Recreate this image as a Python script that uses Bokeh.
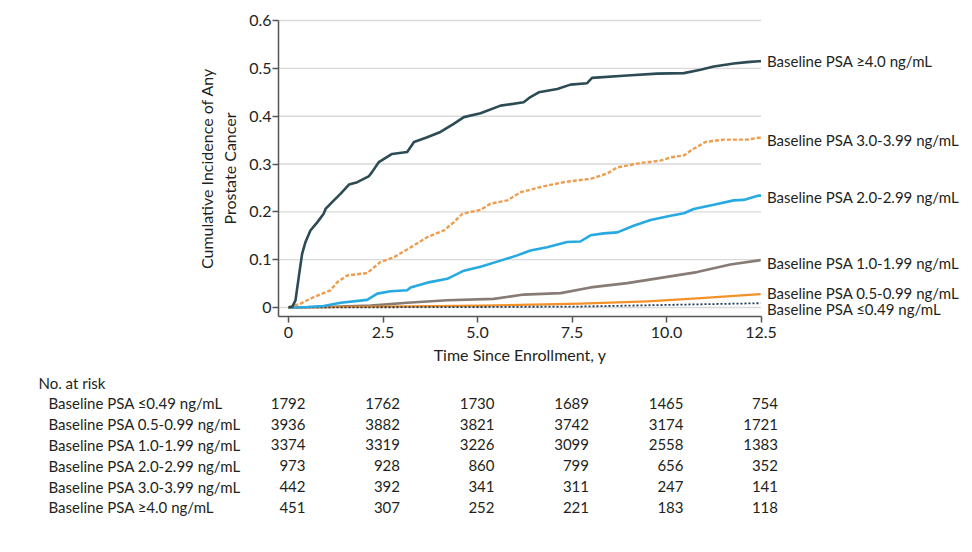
from bokeh.plotting import figure
from bokeh.models import Range1d, FixedTicker, ColumnDataSource
from bokeh.embed import file_html
from bokeh.resources import INLINE
from bokeh.core.properties import value

FONT = "Lato"
FS = "15px"        # labels and table
FS_AX = "16px"     # axis tick labels and titles
TXT = "#231f20"

# ---------------- data ----------------
series_names = [
    "Baseline PSA \u22654.0 ng/mL",
    "Baseline PSA 3.0-3.99 ng/mL",
    "Baseline PSA 2.0-2.99 ng/mL",
    "Baseline PSA 1.0-1.99 ng/mL",
    "Baseline PSA 0.5-0.99 ng/mL",
    "Baseline PSA \u22640.49 ng/mL",
]

t_ge40 = [0, 0.1, 0.185, 0.27, 0.36, 0.45, 0.58, 0.76, 0.93, 0.98, 1.2, 1.38, 1.6, 1.82,
          2.12, 2.21, 2.39, 2.74, 3.14, 3.32, 3.67, 4.02, 4.37, 4.64, 5.08, 5.61, 6.22,
          6.40, 6.62, 7.11, 7.46, 7.9, 8.03, 8.96, 9.75, 10.46, 10.9, 11.25, 11.78,
          12.13, 12.44, 12.5]
ci_ge40 = [0, 0.002, 0.015, 0.063, 0.112, 0.137, 0.161, 0.178, 0.196, 0.206, 0.224,
           0.238, 0.257, 0.262, 0.274, 0.283, 0.304, 0.321, 0.325, 0.346, 0.356, 0.367,
           0.384, 0.398, 0.406, 0.422, 0.429, 0.440, 0.450, 0.457, 0.466, 0.469, 0.480,
           0.485, 0.489, 0.490, 0.497, 0.504, 0.510, 0.513, 0.515, 0.515]

t_30 = [0, 0.32, 0.67, 1.11, 1.29, 1.55, 2.08, 2.43, 2.79, 3.32, 3.67, 4.11, 4.37, 4.6,
        5.08, 5.34, 5.79, 6.14, 6.67, 7.28, 7.99, 8.43, 8.70, 9.31, 9.84, 10.11, 10.46,
        10.72, 11.03, 11.52, 12.13, 12.44, 12.5]
ci_30 = [0, 0.008, 0.022, 0.036, 0.053, 0.067, 0.072, 0.095, 0.105, 0.130, 0.147, 0.161,
         0.178, 0.196, 0.204, 0.217, 0.224, 0.241, 0.252, 0.262, 0.269, 0.280, 0.293,
         0.302, 0.307, 0.314, 0.318, 0.332, 0.346, 0.351, 0.351, 0.355, 0.355]

t_20 = [0, 0.5, 0.93, 1.38, 2.08, 2.35, 2.70, 3.14, 3.23, 3.67, 4.2, 4.64, 5.08, 5.61,
        6.05, 6.40, 6.84, 7.37, 7.72, 7.99, 8.34, 8.70, 9.13, 9.58, 10.11, 10.46, 10.72,
        11.25, 11.78, 12.04, 12.44, 12.5]
ci_20 = [0, 0.001, 0.003, 0.010, 0.016, 0.029, 0.034, 0.036, 0.042, 0.052, 0.060, 0.077,
         0.085, 0.098, 0.109, 0.119, 0.126, 0.137, 0.138, 0.151, 0.155, 0.157, 0.171,
         0.183, 0.192, 0.197, 0.206, 0.215, 0.224, 0.225, 0.234, 0.234]

t_10 = [0, 1.0, 2.17, 3.14, 4.2, 5.43, 6.22, 7.2, 7.99, 8.96, 9.93, 10.81, 11.69, 12.49]
ci_10 = [0, 0.001, 0.004, 0.010, 0.015, 0.018, 0.027, 0.030, 0.042, 0.051, 0.063, 0.074,
         0.090, 0.099]

t_05 = [0, 2.5, 5.08, 7.72, 9.49, 10.81, 12.49]
ci_05 = [0, 0.002, 0.004, 0.008, 0.013, 0.019, 0.028]

t_00 = [0, 5.0, 7.7, 10.4, 12.49]
ci_00 = [0, 0.001, 0.002, 0.006, 0.009]

series_t = [t_ge40, t_30, t_20, t_10, t_05, t_00]
series_ci = [ci_ge40, ci_30, ci_20, ci_10, ci_05, ci_00]
label_y = [0.516, 0.351, 0.232, 0.094, 0.031, -0.003]

x_ticks = [0, 2.5, 5, 7.5, 10, 12.5]
x_tick_labels = ["0", "2.5", "5.0", "7.5", "10.0", "12.5"]
y_ticks = [0, 0.1, 0.2, 0.3, 0.4, 0.5, 0.6]
y_tick_labels = ["0", "0.1", "0.2", "0.3", "0.4", "0.5", "0.6"]

risk_title = "No. at risk"
risk_rows = [
    "Baseline PSA \u22640.49 ng/mL",
    "Baseline PSA 0.5-0.99 ng/mL",
    "Baseline PSA 1.0-1.99 ng/mL",
    "Baseline PSA 2.0-2.99 ng/mL",
    "Baseline PSA 3.0-3.99 ng/mL",
    "Baseline PSA \u22654.0 ng/mL",
]
risk_le049 = [1792, 1762, 1730, 1689, 1465, 754]
risk_05 = [3936, 3882, 3821, 3742, 3174, 1721]
risk_10 = [3374, 3319, 3226, 3099, 2558, 1383]
risk_20 = [973, 928, 860, 799, 656, 352]
risk_30 = [442, 392, 341, 311, 247, 141]
risk_ge40 = [451, 307, 252, 221, 183, 118]
risk_table = [risk_le049, risk_05, risk_10, risk_20, risk_30, risk_ge40]

# ---------------- styles / layout ----------------
colors = ["#2c4b55", "#ee9d4f", "#27a9e1", "#877c75", "#f4922a", "#1d3c5a"]
dashes = ["solid", "4 2", "solid", "solid", "solid", "2 2"]
widths = [2.6, 2.4, 2.6, 2.6, 2.2, 1.8]

W, H = 964, 544
PAGE = 0                             # observed page offset of the canvas
ZERO_PX, ZERO_PY = 288.0, 307.0      # page position of (0, 0)
PPU_X, PPU_Y = 37.8, 478.3           # pixels per data unit
AXIS_PX, AXIS_PY = 278.0, 316.0      # page position of the axis lines
X_END, Y_END = 12.5, 0.6

def dx(px):
    return (px - ZERO_PX) / PPU_X

def dy(py):
    return (ZERO_PY - py) / PPU_Y

X0, Y0 = dx(AXIS_PX), dy(AXIS_PY)

p = figure(width=W, height=H,
           x_range=Range1d(dx(PAGE), dx(PAGE + W)),
           y_range=Range1d(dy(PAGE + H), dy(PAGE)),
           output_backend="svg", toolbar_location=None, min_border=0)
p.outline_line_color = None
p.grid.visible = False

for ax in (p.xaxis[0], p.yaxis[0]):
    ax.axis_line_color = "#555555"
    ax.axis_line_width = 1.5
    ax.major_tick_line_color = "#555555"
    ax.major_tick_line_width = 1.5
    ax.major_tick_out = 6
    ax.major_tick_in = 0
    ax.minor_tick_line_color = None
    ax.major_label_text_font = FONT
    ax.major_label_text_font_size = FS_AX
    ax.major_label_text_color = TXT
    ax.axis_label_text_font = FONT
    ax.axis_label_text_font_size = FS_AX
    ax.axis_label_text_font_style = "normal"
    ax.axis_label_text_color = TXT

p.xaxis.fixed_location = Y0
p.xaxis.bounds = (X0, X_END)
p.xaxis.ticker = FixedTicker(ticks=x_ticks)
p.xaxis.major_label_overrides = dict(zip(x_ticks, x_tick_labels))
p.xaxis.axis_label = "Time Since Enrollment, y"
p.xaxis.major_label_standoff = 4
p.xaxis.axis_label_standoff = 4

p.yaxis.fixed_location = X0
p.yaxis.bounds = (Y0, Y_END)
p.yaxis.ticker = FixedTicker(ticks=y_ticks)
p.yaxis.major_label_overrides = dict(zip(y_ticks, y_tick_labels))
p.yaxis.axis_label = "Cumulative Incidence of Any\nProstate Cancer"
p.yaxis.major_label_standoff = 1
p.yaxis.axis_label_standoff = 7

# horizontal grid lines, limited to the plotting area
p.segment(x0=[X0] * len(y_ticks), x1=[X_END] * len(y_ticks), y0=y_ticks, y1=y_ticks,
          line_color="#d9d9d9", line_width=1.4)

draw_order = [3, 4, 5, 2, 1, 0]
for i in draw_order:
    p.line(series_t[i], series_ci[i], line_color=colors[i], line_width=widths[i],
           line_dash=dashes[i], line_join="round")

p.text(x=[X_END] * len(series_names), y=label_y, text=series_names, x_offset=6,
       text_baseline="middle", text_align="left", text_font=value(FONT),
       text_font_size=value(FS), text_color=TXT)

# ---------------- at-risk table ----------------
ROW = 20.8
TITLE_PY = 382.0
p.text(x=[dx(38)], y=[dy(TITLE_PY)], text=[risk_title], text_baseline="middle",
       text_align="left", text_font=value(FONT), text_font_size=value(FS),
       text_color=TXT)
row_y = [dy(TITLE_PY + ROW * (i + 1)) for i in range(len(risk_rows))]
p.text(x=[dx(48)] * len(risk_rows), y=row_y, text=risk_rows,
       text_baseline="middle", text_align="left", text_font=value(FONT),
       text_font_size=value(FS), text_color=TXT)

xs, ys, txt = [], [], []
for i, row in enumerate(risk_table):
    for j, n in enumerate(row):
        xs.append(x_ticks[j])
        ys.append(row_y[i])
        txt.append(str(n))
src = ColumnDataSource(dict(x=xs, y=ys, text=txt))
p.text(x="x", y="y", text="text", source=src, x_offset=17, text_baseline="middle",
       text_align="right", text_font=value(FONT), text_font_size=value(FS),
       text_color=TXT)

open("out.html", "w").write(file_html(p, INLINE))
